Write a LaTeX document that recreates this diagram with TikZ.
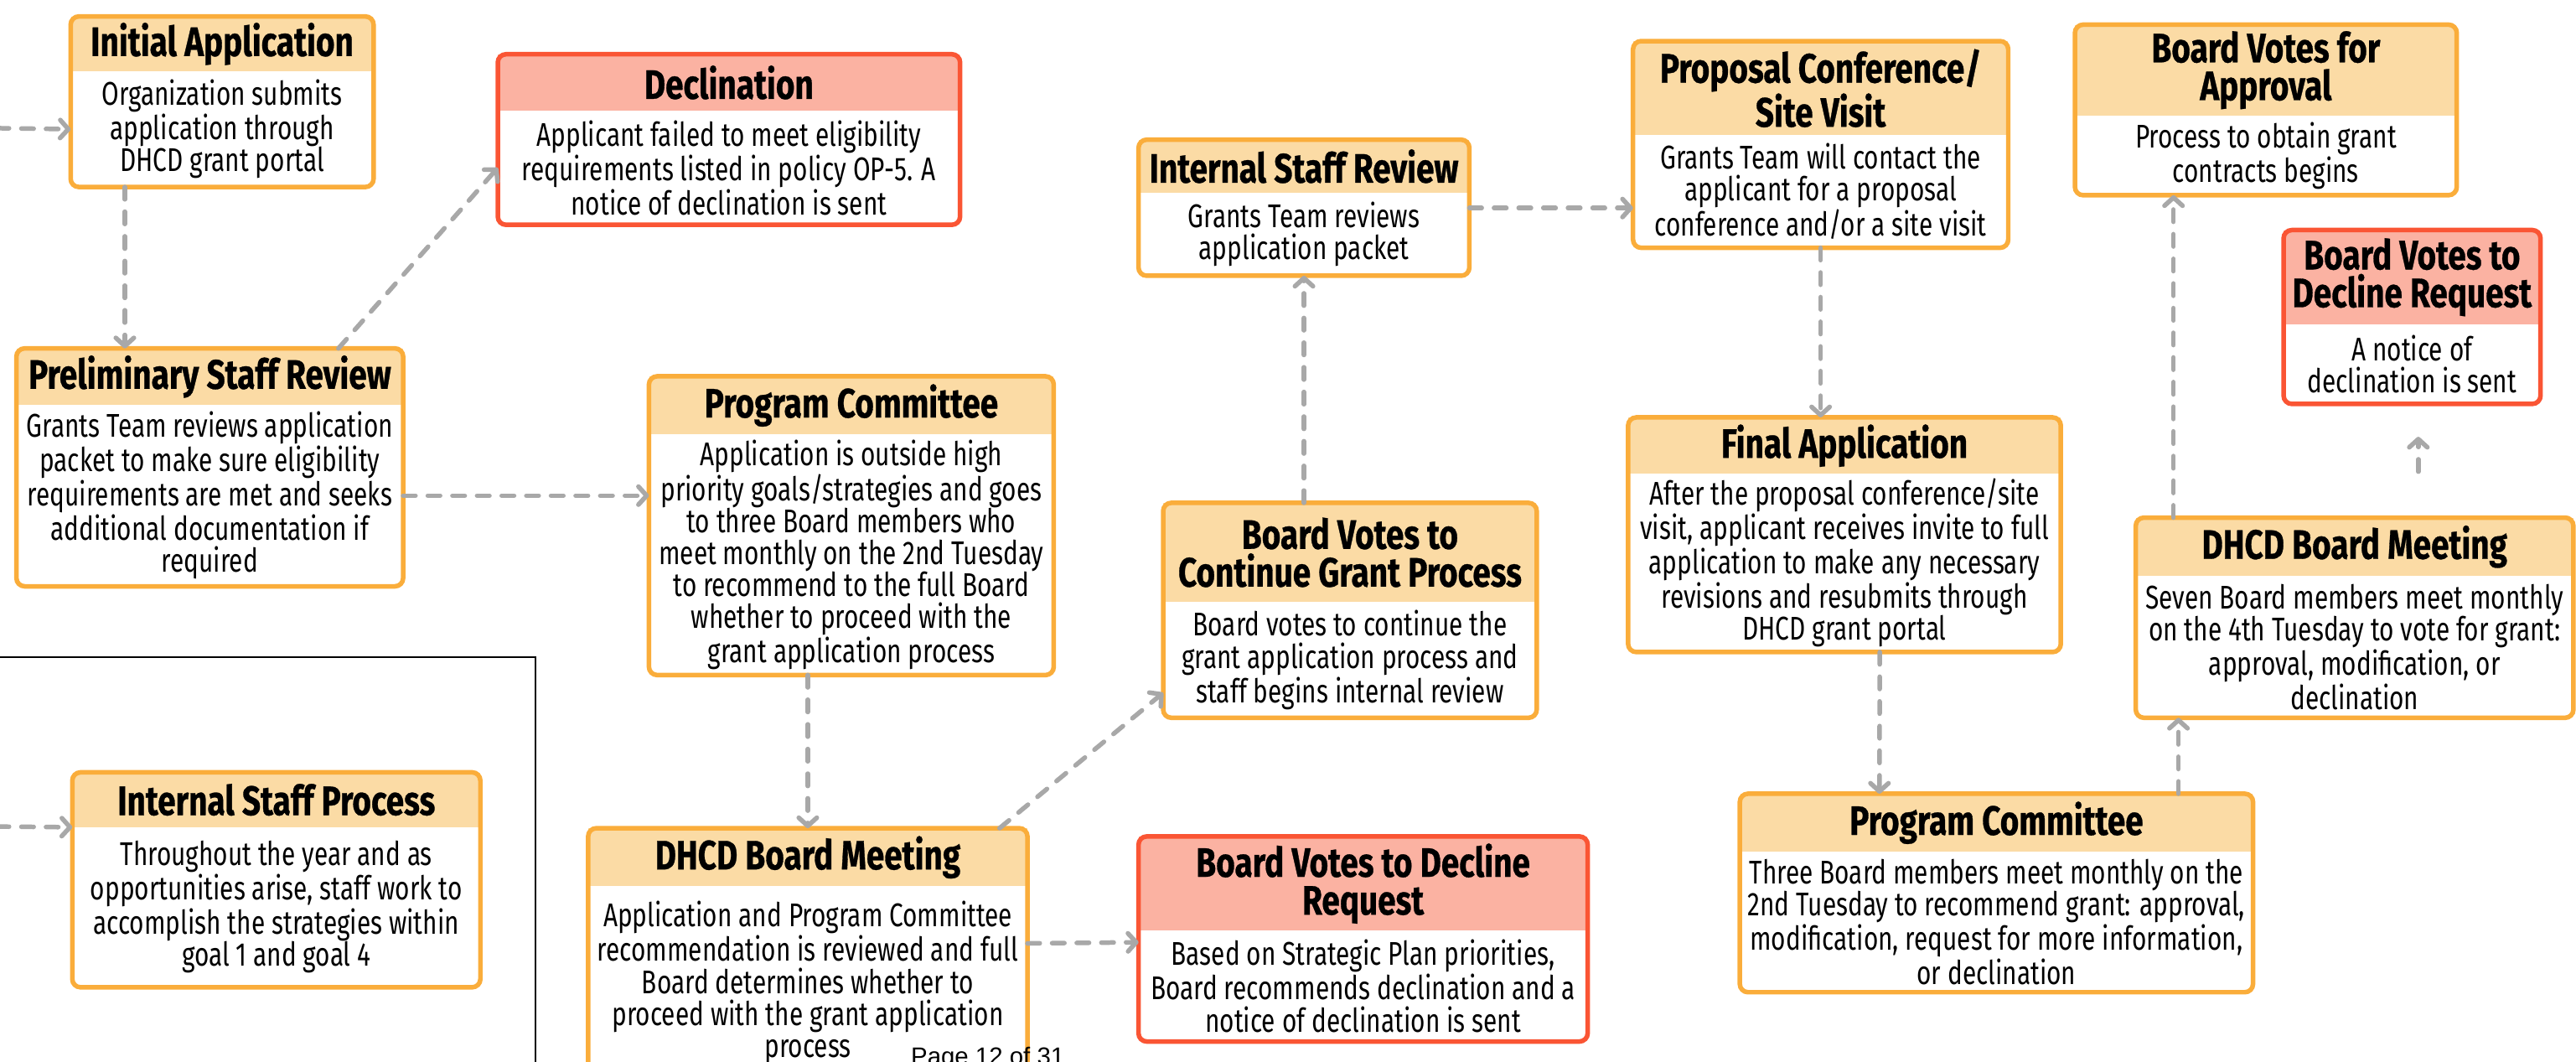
\documentclass[tikz,border=0pt]{standalone}
\usepackage{fontspec}
\setmainfont{Fira Sans}[FakeStretch=0.76, BoldFeatures={FakeStretch=0.79, FakeBold=0.6}]
\newfontfamily\pagefont{Liberation Sans}
\usetikzlibrary{positioning,fit,arrows.meta}

\definecolor{lineorange}{RGB}{250,173,59}
\definecolor{headorange}{RGB}{251,219,165}
\definecolor{linered}{RGB}{250,85,52}
\definecolor{headred}{RGB}{251,178,162}
\definecolor{flowgray}{RGB}{168,168,168}

\tikzset{
  cardhead/.style={fill=headorange, inner sep=0pt, align=center, anchor=north west,
    font=\bfseries\fontsize{25}{23}\selectfont},
  redhead/.style={cardhead, fill=headred},
  cardbody/.style={fill=white, inner sep=0pt, align=center,
    font=\fontsize{20}{19.5}\selectfont},
  cardframe/.style={draw=lineorange, line width=2.8pt, rounded corners=5pt, inner sep=0pt},
  redframe/.style={cardframe, draw=linered},
  flowarrow/.style={draw=flowgray, line width=2.8pt, line cap=round,
    dash pattern=on 7.5pt off 7.5pt, -{Straight Barb[length=5pt,width=11pt,round]}},
}

\begin{document}
\begin{tikzpicture}[x=1pt,y=-1pt]
\useasboundingbox (0,0) rectangle (1568,646);

\draw[line width=0.8pt] (-5,400) -- (326,400) -- (326,660);

% left column
\node[cardhead, minimum width=184pt, minimum height=33pt] (initH) at (43,10) {Initial Application};
\node[cardbody, minimum width=184pt, minimum height=70pt, below=0pt of initH] (init) {Organization submits\\application through\\DHCD grant portal};
\node[cardframe, fit=(initH)(init)] (initF) {};

\node[redhead, minimum width=281pt, minimum height=34pt] (declH) at (303,33) {Declination};
\node[cardbody, minimum width=281pt, minimum height=69pt, below=0pt of declH] (decl) {Applicant failed to meet eligibility\\requirements listed in policy OP-5. A\\notice of declination is sent};
\node[redframe, fit=(declH)(decl)] (declF) {};

\node[cardhead, minimum width=235pt, minimum height=34pt] (prelimH) at (10,212) {Preliminary Staff Review};
\node[cardbody, minimum width=235pt, minimum height=110pt, below=0pt of prelimH] (prelim) {Grants Team reviews application\\packet to make sure eligibility\\requirements are met and seeks\\additional documentation if\\required};
\node[cardframe, fit=(prelimH)(prelim)] (prelimF) {};

\node[cardhead, minimum width=248pt, minimum height=33pt] (ispH) at (44,470) {Internal Staff Process};
\node[cardbody, minimum width=248pt, minimum height=97pt, below=0pt of ispH] (isp) {Throughout the year and as\\opportunities arise, staff work to\\accomplish the strategies within\\goal 1 and goal 4};
\node[cardframe, fit=(ispH)(isp)] (ispF) {};

% middle columns
\node[cardhead, minimum width=246pt, minimum height=35pt] (pcLH) at (395,229) {Program Committee};
\node[cardbody, minimum width=246pt, minimum height=146pt, below=0pt of pcLH] (pcL) {Application is outside high\\priority goals/strategies and goes\\to three Board members who\\meet monthly on the 2nd Tuesday\\to recommend to the full Board\\whether to proceed with the\\grant application process};
\node[cardframe, fit=(pcLH)(pcL)] (pcLF) {};

\node[cardhead, minimum width=267pt, minimum height=35pt] (dhcdLH) at (358,504) {DHCD Board Meeting};
\node[cardbody, minimum width=267pt, minimum height=117pt, below=0pt of dhcdLH] (dhcdL) {Application and Program Committee\\recommendation is reviewed and full\\Board determines whether to\\proceed with the grant application\\process};
\node[cardframe, fit=(dhcdLH)(dhcdL)] (dhcdLF) {};

\node[cardhead, minimum width=201pt, minimum height=32pt] (isrH) at (693,85) {Internal Staff Review};
\node[cardbody, minimum width=201pt, minimum height=50pt, below=0pt of isrH] (isr) {Grants Team reviews\\application packet};
\node[cardframe, fit=(isrH)(isr)] (isrF) {};

\node[cardhead, minimum width=227pt, minimum height=60pt] (bvcH) at (708,306) {Board Votes to\\Continue Grant Process};
\node[cardbody, minimum width=227pt, minimum height=70pt, below=0pt of bvcH] (bvc) {Board votes to continue the\\grant application process and\\staff begins internal review};
\node[cardframe, fit=(bvcH)(bvc)] (bvcF) {};

\node[redhead, minimum width=273pt, minimum height=57pt] (bvdMH) at (693,509) {Board Votes to Decline\\Request};
\node[cardbody, minimum width=273pt, minimum height=67pt, below=0pt of bvdMH] (bvdM) {Based on Strategic Plan priorities,\\Board recommends declination and a\\notice of declination is sent};
\node[redframe, fit=(bvdMH)(bvdM)] (bvdMF) {};

% right columns
\node[cardhead, minimum width=228pt, minimum height=57pt] (propH) at (994,25) {Proposal Conference/\\Site Visit};
\node[cardbody, minimum width=228pt, minimum height=68pt, below=0pt of propH] (prop) {Grants Team will contact the\\applicant for a proposal\\conference and/or a site visit};
\node[cardframe, fit=(propH)(prop)] (propF) {};

\node[cardhead, minimum width=263pt, minimum height=34pt] (finH) at (991,254) {Final Application};
\node[cardbody, minimum width=263pt, minimum height=108pt, below=0pt of finH] (fin) {After the proposal conference/site\\visit, applicant receives invite to full\\application to make any necessary\\revisions and resubmits through\\DHCD grant portal};
\node[cardframe, fit=(finH)(fin)] (finF) {};

\node[cardhead, minimum width=312pt, minimum height=35pt] (pcRH) at (1059,483) {Program Committee};
\node[cardbody, minimum width=312pt, minimum height=85pt, below=0pt of pcRH] (pcR) {Three Board members meet monthly on the\\2nd Tuesday to recommend grant: approval,\\modification, request for more information,\\or declination};
\node[cardframe, fit=(pcRH)(pcR)] (pcRF) {};

\node[cardhead, minimum width=232pt, minimum height=55pt] (bvaH) at (1263,15) {Board Votes for\\Approval};
\node[cardbody, minimum width=232pt, minimum height=48pt, below=0pt of bvaH] (bva) {Process to obtain grant\\contracts begins};
\node[cardframe, fit=(bvaH)(bva)] (bvaF) {};

\node[redhead, minimum width=156pt, minimum height=57pt] (bvdRH) at (1390,140) {Board Votes to\\Decline Request};
\node[cardbody, minimum width=156pt, minimum height=48pt, below=0pt of bvdRH] (bvdR) {A notice of\\declination is sent};
\node[redframe, fit=(bvdRH)(bvdR)] (bvdRF) {};

\node[cardhead, minimum width=266pt, minimum height=35pt] (dhcdRH) at (1300,315) {DHCD Board Meeting};
\node[cardbody, minimum width=266pt, minimum height=86pt, below=0pt of dhcdRH] (dhcdR) {Seven Board members meet monthly\\on the 4th Tuesday to vote for grant:\\approval, modification, or\\declination};
\node[cardframe, fit=(dhcdRH)(dhcdR)] (dhcdRF) {};

% connectors
\coordinate (inA) at (-2,78);
\coordinate (inB) at (-2,503);
\draw[flowarrow] (inA) -- (init.west);
\draw[flowarrow] (inB) -- (isp.north west);
\draw[flowarrow] ([xshift=33pt]init.south west) -- ([xshift=66pt]prelimH.north west);
\draw[flowarrow] ([xshift=196pt]prelimH.north west) -- (decl.west);
\draw[flowarrow] (prelim.east) -- ([yshift=36pt]pcL.west);
\draw[flowarrow] (pcL.south -| dhcdLH.north) -- (dhcdLH.north);
\draw[flowarrow] ([xshift=-17pt]dhcdLH.north east) -- ([yshift=-20pt]bvc.west);
\draw[flowarrow] ([yshift=24pt]dhcdL.east) -- ([yshift=-7pt]bvdM.north west);
\draw[flowarrow] (bvcH.north -| isr.south) -- (isr.south);
\draw[flowarrow] ([yshift=16pt]isr.east) -- ([yshift=-10pt]prop.west);
\draw[flowarrow] (prop.south) -- (finH.north -| prop.south);
\draw[flowarrow] ([xshift=21.5pt]fin.south) -- ([xshift=85pt]pcRH.north west);
\draw[flowarrow] ([xshift=267pt]pcRH.north west) -- ([xshift=26pt]dhcdR.south west);
\draw[flowarrow] ([xshift=23pt]dhcdRH.north west) -- ([xshift=60pt]bva.south west);
\draw[flowarrow, shorten <=28pt, shorten >=20pt] ([xshift=172pt]dhcdRH.north west) -- ([xshift=82pt]bvdR.south west);

\node[anchor=base west, font=\pagefont\fontsize{15}{18}\selectfont] (pageno) at (551,648) {Page 12 of 31};
\end{tikzpicture}
\end{document}
